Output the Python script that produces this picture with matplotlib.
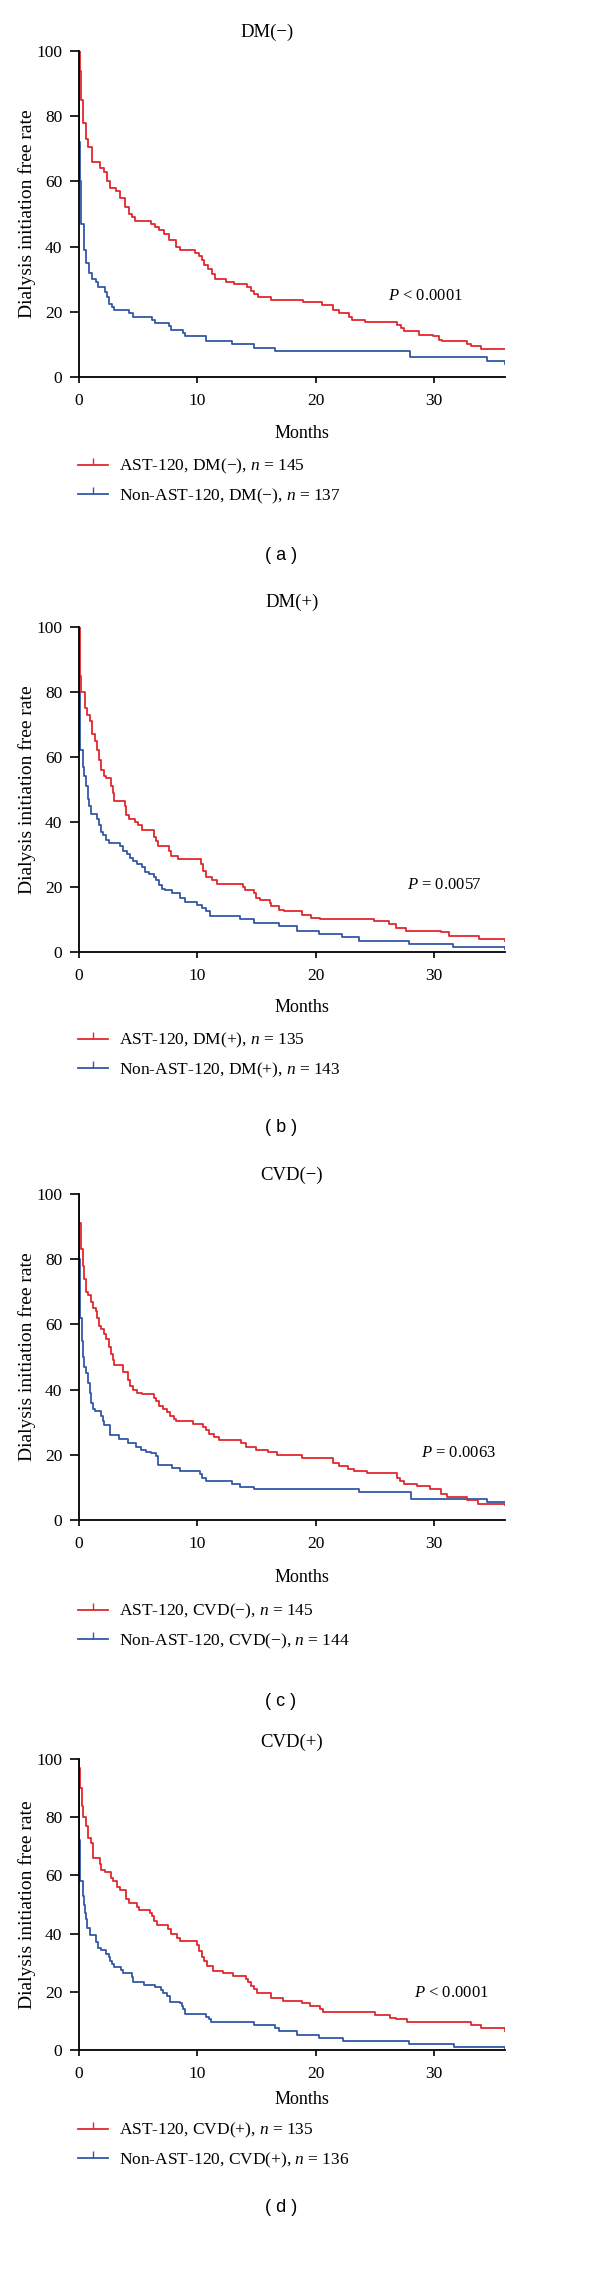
import matplotlib
matplotlib.use("Agg")
import matplotlib.pyplot as plt
from matplotlib.lines import Line2D

plt.rcParams['font.family'] = ['Liberation Serif', 'DejaVu Serif']
plt.rcParams['mathtext.fontset'] = 'custom'
plt.rcParams['mathtext.rm'] = 'Liberation Serif'
plt.rcParams['mathtext.it'] = 'Liberation Serif:italic'

RED = '#e2282c'
BLUE = '#3258a6'

# ---- data: Kaplan-Meier steps (month, rate %) ----
a_red_t = [0, 0.05, 0.2, 0.37, 0.6, 0.8, 1.07, 1.8, 2.1, 2.4, 2.6, 3.1, 3.5, 3.9, 4.2, 4.5, 4.75,
           6.1, 6.4, 6.8, 7.2, 7.6, 8.2, 8.5, 9.8, 10.1, 10.4, 10.6, 10.9, 11.2, 11.5, 12.4, 13.1,
           14.2, 14.5, 14.8, 15.1, 16.2, 18.9, 20.5, 21.5, 22.0, 22.8, 23.1, 24.2, 26.9, 27.2,
           27.5, 28.7, 29.9, 30.4, 30.7, 32.8, 33.1, 34.0, 36.0]
a_red_s = [100, 94, 85, 78, 73, 70.5, 66, 64, 63, 60, 58, 57, 55, 52, 50, 49, 48,
           47, 46, 45, 44, 42, 40, 39, 38, 37, 36, 34.5, 33, 31.5, 30, 29, 28.5,
           27.5, 26.5, 25.5, 24.5, 23.5, 23, 22, 20.5, 19.5, 18.5, 17.5, 17, 16, 15,
           14, 13, 12.5, 11.5, 11, 10, 9.5, 8.5, 8.5]
a_blue_t = [0, 0.02, 0.05, 0.15, 0.4, 0.6, 0.85, 1.1, 1.4, 1.6, 2.2, 2.35, 2.55, 2.75, 3.0, 4.2,
            4.6, 6.2, 6.4, 7.6, 7.75, 8.8, 9.0, 10.7, 12.9, 14.8, 16.6, 28.0, 34.5, 36.0]
a_blue_s = [100, 72, 60, 47, 39, 35, 32, 30, 29, 27.5, 26, 24.5, 22.5, 21.5, 20.5, 19.5,
            18.5, 17.5, 16.5, 15.5, 14.5, 13.5, 12.5, 11, 10, 9, 8, 6, 5, 4]

b_red_t = [0, 0.05, 0.1, 0.2, 0.5, 0.7, 0.9, 1.1, 1.35, 1.5, 1.7, 1.9, 2.1, 2.3, 2.7, 2.85, 3.0,
           3.85, 4.0, 4.2, 4.7, 5.0, 5.3, 6.3, 6.5, 6.65, 7.6, 7.8, 8.4, 10.3, 10.5, 10.75, 11.2,
           11.65, 13.85, 14.05, 14.8, 14.95, 15.3, 16.1, 16.2, 16.9, 17.3, 18.85, 19.6, 20.4,
           24.9, 26.2, 26.75, 27.6, 30.6, 31.3, 33.8, 36.0]
b_red_s = [100, 90, 85, 80, 75, 73, 71, 67, 65, 62, 59, 56, 54, 53.5, 51, 49, 46.5,
           45, 42, 41, 40, 39, 37.5, 35.5, 34, 32.5, 31, 29.5, 28.5, 27, 25, 23, 22,
           21, 20, 19, 18, 16.5, 16, 15, 14, 13, 12.5, 11.5, 10.5, 10,
           9.5, 8.5, 7.5, 6.5, 6, 5, 4, 3.5]
b_blue_t = [0, 0.02, 0.05, 0.1, 0.3, 0.45, 0.6, 0.75, 0.85, 1.0, 1.5, 1.7, 1.9, 2.05, 2.3, 2.5,
            3.45, 3.75, 4.05, 4.3, 4.6, 4.9, 5.3, 5.6, 5.9, 6.3, 6.5, 6.8, 7.0, 7.3, 7.9, 8.5,
            9.0, 10.0, 10.4, 10.7, 11.1, 13.6, 14.8, 16.9, 18.4, 20.3, 22.2, 23.7, 27.9, 31.6, 36.0]
b_blue_s = [100, 80, 70, 62, 57, 54, 51, 47, 45, 42.5, 41, 39, 37, 36, 34.5, 33.5,
            32.5, 31, 30, 29, 28, 27, 26, 24.5, 24, 23, 22, 20.5, 19.5, 19, 18, 16.5,
            15.5, 14.5, 13.5, 12.5, 11, 10, 9, 8, 6.5, 5.5, 4.5, 3.5, 2.5, 1.5, 1]

c_red_t = [0, 0.03, 0.15, 0.3, 0.45, 0.6, 0.8, 1.05, 1.2, 1.45, 1.55, 1.7, 1.9, 2.1, 2.3, 2.5,
           2.7, 2.85, 3.0, 3.75, 4.1, 4.3, 4.55, 4.9, 5.3, 6.3, 6.5, 6.8, 7.1, 7.4, 7.7, 8.0,
           8.2, 9.6, 10.5, 10.75, 11.0, 11.4, 11.8, 13.7, 14.1, 15.0, 16.0, 16.7, 18.85, 21.5,
           22.0, 22.75, 23.2, 24.3, 26.9, 27.1, 27.5, 28.6, 29.7, 30.6, 31.1, 32.8, 33.7, 36.0]
c_red_s = [100, 91, 83, 78, 74, 70, 69, 67, 65, 64, 62, 59.5, 58.5, 57, 55.5, 53,
           51, 49, 47.5, 45.5, 43, 41, 40, 39, 38.5, 37.5, 36.5, 35, 34, 33, 32, 31,
           30.5, 29.5, 28.5, 27.5, 26.5, 25.5, 24.5, 23.5, 22.5, 21.5, 21, 20, 19, 17.5,
           16.5, 15.5, 15, 14.5, 13, 12, 11, 10.5, 9.5, 8, 7, 6, 5, 4.5]
c_blue_t = [0, 0.02, 0.05, 0.1, 0.25, 0.35, 0.45, 0.6, 0.75, 0.9, 1.0, 1.15, 1.35, 1.85, 2.0,
            2.15, 2.6, 3.4, 4.1, 4.8, 5.25, 5.7, 6.1, 6.5, 6.65, 7.9, 8.5, 10.2, 10.4, 10.7,
            12.9, 13.6, 14.8, 23.7, 28.05, 34.5, 36.0]
c_blue_s = [100, 80, 70, 62, 55, 50, 47, 45, 42, 39, 36, 34, 33.5, 32, 30.5,
            29, 26, 25, 23.5, 22.5, 21.5, 21, 20.5, 19.5, 17, 16, 15, 14, 13, 12,
            11, 10, 9.5, 8.5, 6.5, 5.5, 5.5]

d_red_t = [0, 0.03, 0.1, 0.25, 0.35, 0.6, 0.8, 1.0, 1.15, 1.8, 1.9, 2.2, 2.7, 2.9, 3.25, 3.5,
           4.0, 4.2, 4.9, 5.1, 6.0, 6.15, 6.35, 6.6, 7.55, 7.8, 8.3, 8.55, 10.0, 10.15, 10.4,
           10.6, 10.8, 11.3, 12.2, 13.0, 14.1, 14.3, 14.5, 14.75, 15.05, 16.2, 17.25, 18.85,
           19.5, 20.4, 20.6, 25.0, 26.3, 26.75, 27.7, 33.1, 34.0, 36.0]
d_red_s = [100, 97, 90, 84, 80, 77, 73, 71, 66, 64, 62, 61, 59, 58, 56, 55,
           52, 50.5, 49, 48, 47, 46, 44.5, 43, 41.5, 40, 38.5, 37.5, 36, 34, 32,
           30.5, 29, 27, 26.5, 25.5, 24.5, 23.5, 22, 21, 19.5, 18, 17, 16,
           15, 14, 13, 12, 11, 10.5, 9.5, 8.5, 7.5, 6.5]
d_blue_t = [0, 0.02, 0.05, 0.1, 0.3, 0.4, 0.5, 0.6, 0.7, 0.9, 1.45, 1.6, 1.9, 2.3, 2.5, 2.6,
            2.75, 3.0, 3.55, 3.75, 4.45, 4.6, 5.5, 6.4, 6.9, 7.1, 7.4, 7.7, 8.5, 8.7, 8.8, 9.0,
            10.7, 10.95, 11.15, 14.8, 16.6, 16.9, 18.4, 20.3, 22.3, 27.9, 31.7, 36.0]
d_blue_s = [100, 72, 65, 58, 53, 50, 47, 45, 42, 39.5, 37, 35, 34.5, 33, 32, 30.5,
            29.5, 28.5, 27.5, 26.5, 25, 23.5, 22.5, 21.5, 20.5, 19.5, 18.5, 16.5, 16, 15, 14, 12.5,
            11.5, 10.5, 9.5, 8.5, 7.5, 6.5, 5, 4, 3, 2, 1, 0.8]

titles = ['DM(−)', 'DM(+)', 'CVD(−)', 'CVD(+)']
groups = ['DM(−)', 'DM(+)', 'CVD(−)', 'CVD(+)']
n_ast = [145, 135, 145, 135]
n_non = [137, 143, 144, 136]
p_texts = [r'$P$ < 0.0001', r'$P$ = 0.0057', r'$P$ = 0.0063', r'$P$ < 0.0001']
p_pos = [(26.1, 25), (27.7, 20.5), (28.9, 20.4), (28.3, 19.7)]
panel_tags = ['( a )', '( b )', '( c )', '( d )']

series = [
    (a_red_t, a_red_s, a_blue_t, a_blue_s),
    (b_red_t, b_red_s, b_blue_t, b_blue_s),
    (c_red_t, c_red_s, c_blue_t, c_blue_s),
    (d_red_t, d_red_s, d_blue_t, d_blue_s),
]

# layout in pixels (top-origin): axes top/bottom, title y, months y, legend top, tag y
W, H = 600, 2284
axes_px = [(51, 377), (627, 952), (1194, 1520), (1759, 2050)]
title_y = [32, 602, 1175, 1742]
title_x = [267, 292, 292, 292]
months_y = [433, 1008, 1577, 2100]
legend_top = [457, 1031, 1602, 2121]
tag_y = [555, 1128, 1702, 2208]
ax_left, ax_right = 79, 505

fig = plt.figure(figsize=(W / 100, H / 100), dpi=100)
fig.patch.set_facecolor('white')

for i in range(4):
    top, bot = axes_px[i]
    ax = fig.add_axes([ax_left / W, 1 - bot / H, (ax_right - ax_left) / W, (bot - top) / H])
    rt, rs, bt, bs = series[i]
    ax.step(bt, bs, where='post', color=BLUE, lw=1.3)
    ax.step(rt, rs, where='post', color=RED, lw=1.3)

    ax.set_xlim(0, 36)
    ax.set_ylim(0, 100)
    ax.set_xticks([0, 10, 20, 30])
    ax.set_yticks([0, 20, 40, 60, 80, 100])
    for s in ['top', 'right']:
        ax.spines[s].set_visible(False)
    for s in ['left', 'bottom']:
        ax.spines[s].set_linewidth(1.3)
        ax.spines[s].set_color('black')
    ax.tick_params(axis='y', length=6.5, width=1.2, pad=5.5, labelsize=12.5)
    ax.tick_params(axis='x', length=4.5, width=1.2, pad=7, labelsize=12.5)

    ax.text(p_pos[i][0], p_pos[i][1], p_texts[i], fontsize=12, va='center', ha='left')

    fig.text(title_x[i] / W, 1 - title_y[i] / H, titles[i], fontsize=13.5, ha='center', va='center')
    fig.text(302 / W, 1 - months_y[i] / H, 'Months', fontsize=13, ha='center', va='center')
    fig.text(27 / W, 1 - (top + bot) / 2 / H, 'Dialysis initiation free rate', fontsize=14,
             rotation=90, ha='center', va='center')
    fig.text(281 / W, 1 - tag_y[i] / H, panel_tags[i], fontsize=13, ha='center', va='center',
             family=['Liberation Sans', 'DejaVu Sans'])

    # legend proxies: line with an upward censor tick in the middle
    proxies = [Line2D([], [], color=RED, lw=1.3, marker=2, markersize=5),
               Line2D([], [], color=BLUE, lw=1.3, marker=2, markersize=5)]
    labels = [f'AST-120, {groups[i]}, $n$ = {n_ast[i]}',
              f'Non-AST-120, {groups[i]}, $n$ = {n_non[i]}']
    ax.legend(proxies, labels, loc='upper left', numpoints=1,
              bbox_to_anchor=(78 / W, 1 - legend_top[i] / H), bbox_transform=fig.transFigure,
              frameon=False, fontsize=12.5, handlelength=1.75, handletextpad=0.6,
              labelspacing=0.6, borderpad=0, borderaxespad=0)

fig.savefig('out.png', dpi=100, facecolor='white')
